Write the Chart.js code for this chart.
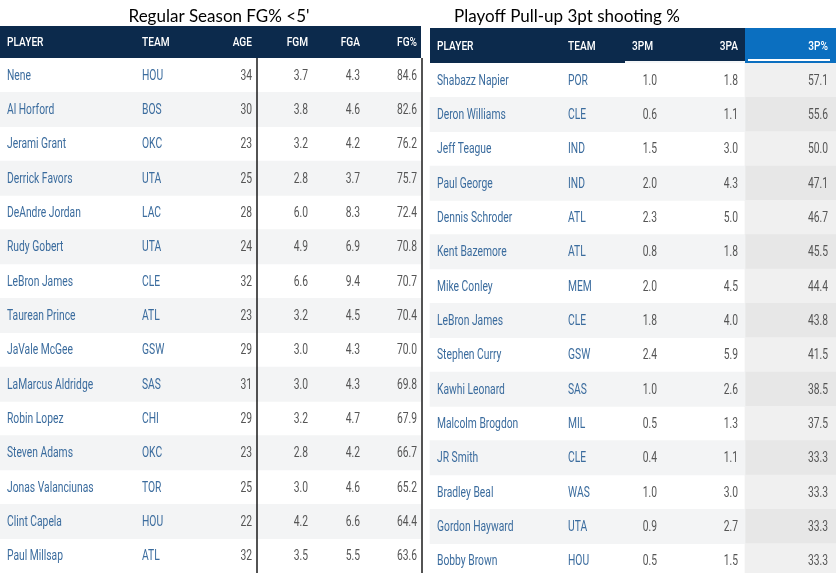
<!DOCTYPE html>
<html>
<head>
<meta charset="utf-8">
<script src="https://cdn.jsdelivr.net/npm/chart.js@4.4.0/dist/chart.umd.min.js"></script>
<style>
  html, body { margin: 0; padding: 0; background: #ffffff; overflow: hidden; }
  #left_wrap { position: absolute; left: 0; top: 0; width: 424px; height: 573px; }
  #right_wrap { position: absolute; left: 424px; top: 0; width: 412px; height: 578px; }
</style>
</head>
<body>
<div id="left_wrap"><canvas id="left_chart" width="424" height="573"></canvas></div>
<div id="right_wrap"><canvas id="right_chart" width="412" height="578"></canvas></div>
<script>
// Left table: Regular Season FG% <5'
const LEFT_TITLE = "Regular Season FG% <5'";
const LEFT_HEADERS = ["PLAYER", "TEAM", "AGE", "FGM", "FGA", "FG%"];
const leftPlayers = ["Nene", "Al Horford", "Jerami Grant", "Derrick Favors", "DeAndre Jordan",
    "Rudy Gobert", "LeBron James", "Taurean Prince", "JaVale McGee", "LaMarcus Aldridge",
    "Robin Lopez", "Steven Adams", "Jonas Valanciunas", "Clint Capela", "Paul Millsap"];
const leftTeams = ["HOU", "BOS", "OKC", "UTA", "LAC", "UTA", "CLE", "ATL", "GSW", "SAS",
    "CHI", "OKC", "TOR", "HOU", "ATL"];
const leftAge = [34, 30, 23, 25, 28, 24, 32, 23, 29, 31, 29, 23, 25, 22, 32];
const leftFGM = [3.7, 3.8, 3.2, 2.8, 6.0, 4.9, 6.6, 3.2, 3.0, 3.0, 3.2, 2.8, 3.0, 4.2, 3.5];
const leftFGA = [4.3, 4.6, 4.2, 3.7, 8.3, 6.9, 9.4, 4.5, 4.3, 4.3, 4.7, 4.2, 4.6, 6.6, 5.5];
const leftFGPct = [84.6, 82.6, 76.2, 75.7, 72.4, 70.8, 70.7, 70.4, 70.0, 69.8, 67.9, 66.7, 65.2, 64.4, 63.6];

// Right table: Playoff Pull-up 3pt shooting %
const RIGHT_TITLE = "Playoff Pull-up 3pt shooting %";
const RIGHT_HEADERS = ["PLAYER", "TEAM", "3PM", "3PA", "3P%"];
const rightPlayers = ["Shabazz Napier", "Deron Williams", "Jeff Teague", "Paul George",
    "Dennis Schroder", "Kent Bazemore", "Mike Conley", "LeBron James", "Stephen Curry",
    "Kawhi Leonard", "Malcolm Brogdon", "JR Smith", "Bradley Beal", "Gordon Hayward", "Bobby Brown"];
const rightTeams = ["POR", "CLE", "IND", "IND", "ATL", "ATL", "MEM", "CLE", "GSW", "SAS",
    "MIL", "CLE", "WAS", "UTA", "HOU"];
const right3PM = [1.0, 0.6, 1.5, 2.0, 2.3, 0.8, 2.0, 1.8, 2.4, 1.0, 0.5, 0.4, 1.0, 0.9, 0.5];
const right3PA = [1.8, 1.1, 3.0, 4.3, 5.0, 1.8, 4.5, 4.0, 5.9, 2.6, 1.3, 1.1, 3.0, 2.7, 1.5];
const right3PPct = [57.1, 55.6, 50.0, 47.1, 46.7, 45.5, 44.4, 43.8, 41.5, 38.5, 37.5, 33.3, 33.3, 33.3, 33.3];

// Styling
const NAVY = "#0c2a4c";
const HILITE = "#0b6fc0";
const NAME_BLUE = "#3b6c9e";
const NUM_GRAY = "#555555";
const STRIPE = "#f3f4f5";
const SORT_BG = "#f0f0f0";
const SORT_BG_DARK = "#e7e7e7";
const CELL_SQUEEZE = 0.71;   // the site font is a condensed face
const HEAD_SQUEEZE = 0.78;
const CELL_FONT = "14.5px Roboto";
const HEAD_FONT = "500 13px Roboto";

function drawText(ctx, text, x, y, align, font, color, squeeze) {
    ctx.save();
    ctx.translate(x, y);
    ctx.scale(squeeze, 1);
    ctx.font = font;
    ctx.fillStyle = color;
    ctx.textAlign = align;
    ctx.textBaseline = "middle";
    ctx.fillText(text, 0, 0);
    ctx.restore();
}

function fmt1(v) { return v.toFixed(1); }

// Build a table chart. cols: x position (in table pixels), alignment and cell text per row.
function makeTable(canvasId, cfg) {
    const stripes = cfg.rows.map((r, i) => (i % 2 == 1) ? [cfg.stripeFrom, cfg.stripeTo] : null);
    const datasets = [{
        data: stripes,
        backgroundColor: STRIPE,
        borderWidth: 0,
        barPercentage: 1,
        categoryPercentage: 1,
        grouped: false
    }];
    if (cfg.sortCol) {
        datasets.push({
            data: cfg.rows.map(() => [cfg.sortCol.from, cfg.sortCol.to]),
            backgroundColor: cfg.rows.map((r, i) => (i % 2 == 1) ? SORT_BG_DARK : SORT_BG),
            borderWidth: 0,
            barPercentage: 1,
            categoryPercentage: 1,
            grouped: false
        });
    }

    const tablePlugin = {
        id: "tableText",
        afterDatasetsDraw(chart) {
            const ctx = chart.ctx;
            const xs = chart.scales.x;
            const ys = chart.scales.y;
            const area = chart.chartArea;

            // Title
            ctx.save();
            ctx.font = "17px Lato";
            ctx.fillStyle = "#000000";
            ctx.textAlign = "center";
            ctx.textBaseline = "alphabetic";
            ctx.fillText(cfg.title, xs.getPixelForValue(cfg.titleX), 22);
            ctx.restore();

            // Header bar
            const hx0 = xs.getPixelForValue(cfg.headFrom);
            const hx1 = xs.getPixelForValue(cfg.headTo);
            ctx.fillStyle = NAVY;
            ctx.fillRect(hx0, cfg.headTop, hx1 - hx0, area.top - cfg.headTop);
            if (cfg.sortCol) {
                const sx0 = xs.getPixelForValue(cfg.sortCol.from);
                const sx1 = xs.getPixelForValue(cfg.sortCol.to);
                ctx.fillStyle = HILITE;
                ctx.fillRect(sx0, cfg.headTop, sx1 - sx0, area.top - cfg.headTop);
                ctx.fillStyle = "#ffffff";
                ctx.fillRect(sx0 + 3, area.top - 4, sx1 - sx0 - 9, 2);
                ctx.fillStyle = "#f4f6f8";
                const gx0 = xs.getPixelForValue(cfg.sortCol.gapFrom);
                ctx.fillRect(gx0, area.top - 2, sx0 - gx0, 2);
            }
            const headY = (cfg.headTop + area.top) / 2 + 1;
            cfg.cols.forEach((c, j) => {
                drawText(ctx, cfg.headers[j], xs.getPixelForValue(c.hx ?? c.x), headY,
                    c.align, HEAD_FONT, "#ffffff", HEAD_SQUEEZE);
            });

            // Cells
            cfg.rows.forEach((row, i) => {
                const y = ys.getPixelForValue(i) + 1;
                cfg.cols.forEach((c, j) => {
                    drawText(ctx, row[j], xs.getPixelForValue(c.x), y, c.align,
                        CELL_FONT, j < 2 ? NAME_BLUE : NUM_GRAY, CELL_SQUEEZE);
                });
            });

            // Rule lines
            ctx.save();
            ctx.strokeStyle = "#1a1a1a";
            ctx.lineWidth = 1.5;
            (cfg.rules || []).forEach(rx => {
                const px = xs.getPixelForValue(rx);
                ctx.beginPath();
                ctx.moveTo(px, area.top);
                ctx.lineTo(px, chart.height);
                ctx.stroke();
            });
            ctx.restore();
        }
    };

    const ctx = document.getElementById(canvasId).getContext("2d");
    return new Chart(ctx, {
        type: "bar",
        data: { labels: cfg.labels, datasets: datasets },
        options: {
            indexAxis: "y",
            responsive: false,
            animation: false,
            events: [],
            layout: { padding: { top: cfg.bodyTop, left: 0, right: 0, bottom: 0 } },
            plugins: { legend: { display: false }, tooltip: { enabled: false }, title: { display: false } },
            scales: {
                x: { type: "linear", min: 0, max: cfg.width, display: false },
                y: { type: "category", display: false, offset: true }
            }
        },
        plugins: [tablePlugin]
    });
}

const leftRows = leftPlayers.map((p, i) =>
    [p, leftTeams[i], String(leftAge[i]), fmt1(leftFGM[i]), fmt1(leftFGA[i]), fmt1(leftFGPct[i])]);
const rightRows = rightPlayers.map((p, i) =>
    [p, rightTeams[i], fmt1(right3PM[i]), fmt1(right3PA[i]), fmt1(right3PPct[i])]);

makeTable("left_chart", {
    title: LEFT_TITLE, titleX: 219, headers: LEFT_HEADERS, labels: leftPlayers, rows: leftRows,
    width: 424, bodyTop: 58, headTop: 26, headFrom: 0, headTo: 421,
    stripeFrom: 0, stripeTo: 421,
    cols: [
        { x: 7, align: "left" },
        { x: 142, align: "left" },
        { x: 252, align: "right" },
        { x: 308, align: "right" },
        { x: 360, align: "right" },
        { x: 417, align: "right" }
    ],
    rules: [257, 422]
});

makeTable("right_chart", {
    title: RIGHT_TITLE, titleX: 143, headers: RIGHT_HEADERS, labels: rightPlayers, rows: rightRows,
    width: 412, bodyTop: 63, headTop: 28, headFrom: 6, headTo: 412,
    stripeFrom: 6, stripeTo: 321,
    sortCol: { from: 321, to: 412, gapFrom: 201 },
    cols: [
        { x: 13, align: "left" },
        { x: 144, align: "left" },
        { x: 233, hx: 229, align: "right" },
        { x: 314, align: "right" },
        { x: 404, align: "right" }
    ]
});
</script>
</body>
</html>
